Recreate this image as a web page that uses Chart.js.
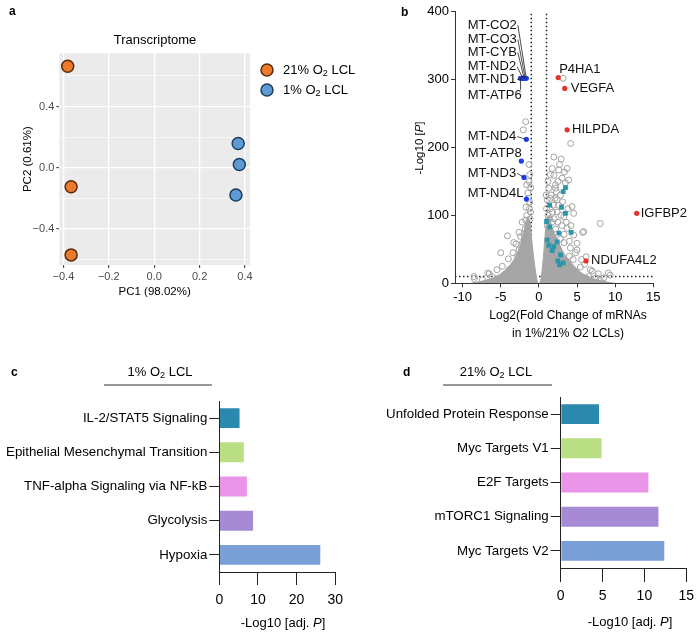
<!DOCTYPE html>
<html>
<head>
<meta charset="utf-8">
<script src="https://cdn.jsdelivr.net/npm/chart.js@4.4.0/dist/chart.umd.min.js"></script>
<style>
  body { margin: 0; background: #fff; }
  #wrap { position: relative; width: 700px; height: 634px; }
  canvas { position: absolute; }
</style>
</head>
<body>
<div id="wrap">
  <canvas id="pcaChart" width="370" height="310" style="left:0;top:0"></canvas>
  <canvas id="volcanoChart" width="350" height="345" style="left:350px;top:0"></canvas>
  <canvas id="hypoxiaChart" width="350" height="304" style="left:0;top:330px"></canvas>
  <canvas id="normoxiaChart" width="350" height="304" style="left:350px;top:330px"></canvas>
</div>
<script>
const FONT = '"Liberation Sans", Arial, sans-serif';
Chart.defaults.font.family = FONT;
Chart.defaults.color = '#000';

// ---- a: PCA ----
const pcaGroups = ['21% O₂ LCL', '1% O₂ LCL'];
const pc1Normoxia = [-0.381, -0.366, -0.366];
const pc2Normoxia = [0.663, -0.124, -0.569];
const pc1Hypoxia = [0.370, 0.375, 0.360];
const pc2Hypoxia = [0.159, 0.022, -0.178];
const pcaXTicks = [-0.4, -0.3, -0.2, -0.1, 0, 0.1, 0.2, 0.3, 0.4];
const pcaYTicks = [-0.6, -0.4, -0.2, 0, 0.2, 0.4, 0.6];

// ---- b: volcano ----
const volcanoXTicks = [-10, -5, 0, 5, 10, 15];
const volcanoYTicks = [0, 100, 200, 300, 400];
const foldCutoff = [-1, 1];
const pCutoff = 10;
const upGenes = ['P4HA1', 'VEGFA', 'HILPDA', 'IGFBP2', 'NDUFA4L2'];
const upLog2FC = [2.53, 3.39, 3.70, 12.83, 6.18];
const upLogP = [303, 287, 226, 103, 33];
const mtGenes = ['MT-CO2', 'MT-CO3', 'MT-CYB', 'MT-ND2', 'MT-ND1', 'MT-ATP6', 'MT-ND4', 'MT-ATP8', 'MT-ND3', 'MT-ND4L'];
const mtLog2FC = [-1.65, -1.8, -1.95, -2.1, -2.25, -2.4, -1.64, -2.3, -1.95, -1.64];
const mtLogP = [302, 302, 302, 302, 302, 302, 212, 180, 156, 124];
const hallmarkLog2FC = [3.48, 3.18, 1.40, 2.96, 3.48, 1.0, 1.44, 2.61, 4.22, 1.09, 2.40, 1.30, 1.75, 2.83, 2.48, 3.18, 2.70, 1.96];
const hallmarkLogP = [141, 135, 115, 112, 103, 91, 83, 74, 75, 64, 61, 56, 48, 42, 33, 30, 27, 54];
const otherLog2FC = [
  -1.73, -2.05, -1.3, -1.08, -1.6, -1.45, -1.2, -1.6, -1.73, -1.25, -1.4, -1.8, -1.96, -2.4, -2.16,
  -2.6, -1.5, -3.04, -3.7, -4.56, -4.12, -5.0, -6.5, -8.47, -7.4, -3.9, -6.7, -8.5, -1.9, -1.15,
  -1.3, -1.2, -2.2, -2.6, -3.0, -3.4, -4.0, -4.8, -5.5, -6.2, -1.1, -1.35, -2.8, -3.3, -1.7,
  3.17, 4.17, 1.96, 2.92, 1.75, 2.6, 3.35, 3.7, 1.96, 3.05, 3.9, 2.18, 3.48, 2.18, 1.53,
  2.83, 4.35, 4.56, 3.26, 8.04, 5.87, 4.56, 5.0, 3.7, 9.1, 6.74, 5.43, 5.74, 6.2, 9.35,
  5.0, 4.13, 1.09, 2.39, 1.2, 1.5, 2.0, 2.5, 3.0, 1.3, 2.6, 1.8, 4.0, 4.5, 3.3,
  2.8, 3.8, 7.5, 6.5, 8.0, 1.1, 1.4, 1.7, 2.2, 1.0, 1.6, 2.3, 1.25,
  1.9, 2.4, 2.9, 3.6, 4.2, 2.1, 1.2, 1.5, 2.5, 2.7, 3.1, 3.8, 3.3, 4.0, 4.8,
  5.6, 6.0, 7.0, 7.8, 8.5, 0.95
];
const otherLogP = [
  238, 226, 150, 141, 145, 133, 120, 100, 93, 110, 85, 80, 72, 69, 59,
  49, 76, 29, 20, 12, 70, 45, 14, 7, 5, 20, 15, 10, 65, 95,
  175, 160, 90, 75, 58, 45, 36, 25, 20, 10, 105, 125, 40, 60, 112,
  302, 206, 186, 183, 169, 167, 164, 169, 159, 155, 152, 145, 148, 140, 125,
  130, 113, 103, 98, 88, 76, 71, 59, 81, 15, 20, 24, 75, 39, 12,
  49, 52, 123, 123, 100, 110, 95, 90, 85, 140, 115, 105, 40, 35, 60,
  65, 30, 8, 10, 5, 85, 95, 90, 80, 110, 130, 135, 75,
  115, 105, 100, 90, 85, 125, 150, 160, 150, 175, 120, 110, 72, 62, 45,
  35, 28, 18, 14, 8, 130
];
// outline of the dense grey cloud (down / up regulated)
const downCloudX = [-9, -7.5, -6, -5, -4, -3, -2.4, -2, -1.7, -1.45, -1.2, -1, -0.7, -0.45, -0.25, -0.1];
const downCloudY = [0, 3, 8, 14, 24, 40, 58, 75, 90, 97, 92, 70, 40, 18, 5, 0];
const upCloudX = [0.1, 0.3, 0.6, 0.85, 1.1, 1.35, 1.7, 2.2, 2.8, 3.5, 4.5, 5.5, 6.7, 8, 10];
const upCloudY = [0, 8, 40, 75, 95, 100, 82, 70, 55, 40, 27, 16, 9, 4, 0];

// ---- c / d: enrichment ----
const hypoxiaTerms = ['IL-2/STAT5 Signaling', 'Epithelial Mesenchymal Transition', 'TNF-alpha Signaling via NF-kB', 'Glycolysis', 'Hypoxia'];
const hypoxiaScores = [5.5, 6.6, 7.4, 9.0, 26.4];
const normoxiaTerms = ['Unfolded Protein Response', 'Myc Targets V1', 'E2F Targets', 'mTORC1 Signaling', 'Myc Targets V2'];
const normoxiaScores = [4.7, 5.0, 10.6, 11.8, 12.5];
const termColors = ['#2c89ae', '#b9de84', '#ea95e7', '#a68ad3', '#7a9fd7'];

const toPts = (xs, ys) => xs.map((x, i) => ({ x: x, y: ys[i] }));

// rich text: *italic*, ₂ as subscript
function richParts(str) {
    const parts = [];
    str.split('*').forEach((seg, i) => {
        seg.split(/(₂)/).forEach(s => {
            if (!s) return;
            if (s === '₂') parts.push({ t: '2', sub: true, it: i % 2 === 1 });
            else parts.push({ t: s, it: i % 2 === 1 });
        });
    });
    return parts;
}

function drawRich(ctx, str, x, y, o) {
    const size = o.size || 13;
    const parts = richParts(str);
    const fontFor = p => (p.it ? 'italic ' : '') + (o.bold ? 'bold ' : '') + (p.sub ? size * 0.7 : size) + 'px ' + FONT;
    let w = 0;
    parts.forEach(p => { ctx.font = fontFor(p); p.w = ctx.measureText(p.t).width; w += p.w; });
    ctx.save();
    ctx.translate(x, y);
    if (o.rotate) ctx.rotate(o.rotate);
    let cx = o.align === 'left' ? 0 : (o.align === 'right' ? -w : -w / 2);
    ctx.fillStyle = o.color || '#000';
    ctx.textBaseline = 'middle';
    ctx.textAlign = 'left';
    parts.forEach(p => {
        ctx.font = fontFor(p);
        ctx.fillText(p.t, cx, p.sub ? size * 0.28 : 0);
        cx += p.w;
    });
    ctx.restore();
    return w;
}

// texts and rules drawn on top of a chart, in canvas pixels
function textLayer(items) {
    return {
        id: 'textLayer',
        afterDraw(chart) {
            const ctx = chart.ctx;
            items.forEach(it => {
                if (it.line) {
                    ctx.save();
                    ctx.strokeStyle = '#333';
                    ctx.lineWidth = 1;
                    ctx.beginPath();
                    ctx.moveTo(it.line[0], it.line[1]);
                    ctx.lineTo(it.line[2], it.line[3]);
                    ctx.stroke();
                    ctx.restore();
                    return;
                }
                drawRich(ctx, it.text, it.x, it.y, it);
            });
        }
    };
}

const fixWidth = w => s => { s.width = w; };
const fixHeight = h => s => { s.height = h; };
const setTicks = list => axis => { axis.ticks = list.map(v => ({ value: v })); };

// ---------- a ----------
const isMajor = (v, step) => Math.abs(v / step - Math.round(v / step)) < 1e-6;
const pcaFmt = v => (v < 0 ? '\u2212' : '') + Math.abs(v).toFixed(1);

const panelBg = {
    id: 'panelBg',
    beforeDraw(chart) {
        const { ctx, chartArea: a } = chart;
        ctx.save();
        ctx.fillStyle = '#ebebeb';
        ctx.fillRect(a.left, a.top, a.right - a.left, a.bottom - a.top);
        ctx.restore();
    }
};

const pcaLegend = {
    id: 'pcaLegend',
    afterDraw(chart) {
        const ctx = chart.ctx;
        chart.data.datasets.forEach((ds, i) => {
            const cy = 70 + i * 20;
            ctx.save();
            ctx.beginPath();
            ctx.arc(267, cy, 6, 0, Math.PI * 2);
            ctx.fillStyle = ds.backgroundColor;
            ctx.fill();
            ctx.lineWidth = ds.borderWidth;
            ctx.strokeStyle = ds.borderColor;
            ctx.stroke();
            ctx.restore();
            drawRich(ctx, ds.label, 283, cy, { size: 13, align: 'left' });
        });
    }
};

new Chart(document.getElementById('pcaChart'), {
    type: 'scatter',
    data: {
        datasets: [
            { label: pcaGroups[0], data: toPts(pc1Normoxia, pc2Normoxia), backgroundColor: '#ec7a2c', borderColor: '#5b2a0a', borderWidth: 1.5, pointRadius: 6 },
            { label: pcaGroups[1], data: toPts(pc1Hypoxia, pc2Hypoxia), backgroundColor: '#5d9ad6', borderColor: '#1d3e5e', borderWidth: 1.5, pointRadius: 6 }
        ]
    },
    options: {
        responsive: false,
        animation: false,
        layout: { padding: { left: 21, top: 53.3, right: 120, bottom: 10.8 } },
        plugins: { legend: { display: false }, tooltip: { enabled: false } },
        scales: {
            x: {
                min: -0.418, max: 0.422,
                afterBuildTicks: setTicks(pcaXTicks),
                afterFit: fixHeight(34.2),
                border: { display: false },
                grid: {
                    color: '#fff',
                    lineWidth: c => (c.tick && isMajor(c.tick.value, 0.2) ? 1.3 : 0.6),
                    tickColor: c => (c.tick && isMajor(c.tick.value, 0.2) ? '#333' : 'rgba(0,0,0,0)'),
                    tickWidth: 1, tickLength: 3
                },
                ticks: { color: '#4d4d4d', font: { size: 11 }, padding: 2, maxRotation: 0, callback: v => (isMajor(v, 0.2) ? pcaFmt(v) : '') },
                title: { display: true, text: 'PC1 (98.02%)', font: { size: 11.5 }, padding: 0 }
            },
            y: {
                min: -0.635, max: 0.748,
                afterBuildTicks: setTicks(pcaYTicks),
                afterFit: fixWidth(38.3),
                border: { display: false },
                grid: {
                    color: '#fff',
                    lineWidth: c => (c.tick && isMajor(c.tick.value, 0.4) ? 1.3 : 0.6),
                    tickColor: c => (c.tick && isMajor(c.tick.value, 0.4) ? '#333' : 'rgba(0,0,0,0)'),
                    tickWidth: 1, tickLength: 3
                },
                ticks: { color: '#4d4d4d', font: { size: 11 }, padding: 2, callback: v => (isMajor(v, 0.4) ? pcaFmt(v) : '') },
                title: { display: true, text: 'PC2 (0.61%)', font: { size: 11.5 }, padding: 0 }
            }
        }
    },
    plugins: [panelBg, pcaLegend, textLayer([
        { text: 'a', x: 9, y: 12, size: 12, bold: true, align: 'left' },
        { text: 'Transcriptome', x: 155, y: 40, size: 13 }
    ])]
});

// ---------- b ----------
// where the gene names sit (pixel offsets / data spots for the text)
const upLabelOffsets = [[1, -8], [6, 0], [5, 0], [4, 0], [5, 0]];
const mtLabelX = -9.33;
const mtLabelY = [380, 359, 340, 319, 300, 276, 216, 191, 162, 133];
const mtLinks = ['side', 'side', 'side', 'side', 'side', 'up', 'side', 'none', 'side', 'none'];

const volcanoLabels = {
    id: 'volcanoLabels',
    afterDatasetsDraw(chart) {
        const { ctx, scales: { x, y } } = chart;
        ctx.save();
        ctx.font = '13px ' + FONT;
        ctx.textBaseline = 'middle';
        ctx.fillStyle = '#111';
        ctx.strokeStyle = '#222';
        ctx.lineWidth = 0.8;
        upGenes.forEach((g, i) => {
            const px = x.getPixelForValue(upLog2FC[i]);
            const py = y.getPixelForValue(upLogP[i]);
            ctx.fillText(g, px + upLabelOffsets[i][0], py + upLabelOffsets[i][1]);
        });
        mtGenes.forEach((g, i) => {
            const lx = x.getPixelForValue(mtLabelX);
            const ly = y.getPixelForValue(mtLabelY[i]);
            ctx.fillText(g, lx, ly);
            const w = ctx.measureText(g).width;
            const px = x.getPixelForValue(mtLog2FC[i]);
            const py = y.getPixelForValue(mtLogP[i]);
            ctx.beginPath();
            if (mtLinks[i] === 'side') {
                ctx.moveTo(lx + w + 1, ly);
                ctx.lineTo(px, py);
            } else if (mtLinks[i] === 'up') {
                ctx.moveTo(px, ly - 6);
                ctx.lineTo(px, py);
            }
            ctx.stroke();
        });
        ctx.restore();
    }
};

const yMax = volcanoYTicks[volcanoYTicks.length - 1];
const cutoffStyle = { showLine: true, borderDash: [1.5, 2.5], borderColor: '#222', borderWidth: 1.5, pointRadius: 0, order: 5 };

new Chart(document.getElementById('volcanoChart'), {
    type: 'scatter',
    data: {
        datasets: [
            { label: 'top up', data: toPts(upLog2FC, upLogP), backgroundColor: '#e8332d', borderWidth: 0, pointRadius: 2.6, order: 0 },
            { label: 'mitochondrial', data: toPts(mtLog2FC, mtLogP), backgroundColor: '#1e3cf0', borderWidth: 0, pointRadius: 2.6, order: 1 },
            { label: 'hypoxia hallmark', data: toPts(hallmarkLog2FC, hallmarkLogP), pointStyle: 'rect', backgroundColor: '#2996aa', borderWidth: 0, pointRadius: 3.4, order: 2 },
            { label: 'other', data: toPts(otherLog2FC, otherLogP), backgroundColor: 'rgba(0,0,0,0)', borderColor: '#a3a3a3', borderWidth: 1, pointRadius: 3, order: 3 },
            { label: 'cloud down', data: toPts(downCloudX, downCloudY), showLine: true, fill: 'origin', backgroundColor: '#a6a6a6', borderColor: '#a6a6a6', borderWidth: 1, pointRadius: 0, tension: 0.25, order: 4 },
            { label: 'cloud up', data: toPts(upCloudX, upCloudY), showLine: true, fill: 'origin', backgroundColor: '#a6a6a6', borderColor: '#a6a6a6', borderWidth: 1, pointRadius: 0, tension: 0.25, order: 4 },
            Object.assign({ label: 'fc down', data: [{ x: foldCutoff[0], y: 0 }, { x: foldCutoff[0], y: yMax }] }, cutoffStyle),
            Object.assign({ label: 'fc up', data: [{ x: foldCutoff[1], y: 0 }, { x: foldCutoff[1], y: yMax }] }, cutoffStyle),
            Object.assign({ label: 'p cut', data: [{ x: -11, y: pCutoff }, { x: 15, y: pCutoff }] }, cutoffStyle)
        ]
    },
    options: {
        responsive: false,
        animation: false,
        layout: { padding: { left: 0, top: 11.7, right: 46.7, bottom: 0 } },
        plugins: { legend: { display: false }, tooltip: { enabled: false } },
        scales: {
            x: {
                min: -11, max: 15,
                afterBuildTicks: setTicks(volcanoXTicks),
                afterFit: fixHeight(61.7),
                border: { display: true, color: '#333', width: 1 },
                grid: { drawOnChartArea: false, drawTicks: true, tickLength: 4, tickColor: '#333' },
                ticks: { font: { size: 13 }, padding: 2, maxRotation: 0 }
            },
            y: {
                min: 0, max: yMax,
                afterBuildTicks: setTicks(volcanoYTicks),
                afterFit: fixWidth(105),
                border: { display: true, color: '#333', width: 1 },
                grid: { drawOnChartArea: false, drawTicks: true, tickLength: 4, tickColor: '#333' },
                ticks: { font: { size: 13 }, padding: 2 }
            }
        }
    },
    plugins: [volcanoLabels, textLayer([
        { text: 'b', x: 51, y: 13, size: 12, bold: true, align: 'left' },
        { text: '-Log10 [*P*]', x: 70, y: 148, size: 11.5, rotate: -Math.PI / 2 },
        { text: 'Log2(Fold Change of mRNAs', x: 218, y: 316, size: 12 },
        { text: 'in 1%/21% O2 LCLs)', x: 218, y: 334, size: 12 }
    ])]
});

// ---------- c / d ----------
function enrichmentChart(id, terms, scores, xMax, step, box, texts) {
    return new Chart(document.getElementById(id), {
        type: 'bar',
        data: {
            labels: terms,
            datasets: [{
                label: '-Log10 [adj. P]',
                data: scores,
                backgroundColor: termColors,
                borderColor: 'rgba(255,255,255,0.45)',
                borderWidth: 1,
                categoryPercentage: 1,
                barPercentage: 0.64
            }]
        },
        options: {
            indexAxis: 'y',
            responsive: false,
            animation: false,
            layout: { padding: { left: 0, top: box.top, right: box.right, bottom: 0 } },
            plugins: { legend: { display: false }, tooltip: { enabled: false } },
            scales: {
                x: {
                    min: 0, max: xMax,
                    ticks: { stepSize: step, font: { size: 14 }, padding: box.tickPad, maxRotation: 0 },
                    afterFit: fixHeight(box.xHeight),
                    border: { display: true, color: '#222', width: 1 },
                    grid: { drawOnChartArea: false, drawTicks: true, tickLength: box.tickLen, tickColor: '#222' }
                },
                y: {
                    afterFit: fixWidth(box.left),
                    border: { display: true, color: '#222', width: 1 },
                    grid: { offset: false, drawOnChartArea: false, drawTicks: true, tickLength: 10, tickColor: '#222' },
                    ticks: { font: { size: 13.3 }, padding: 2, autoSkip: false }
                }
            }
        },
        plugins: [textLayer(texts)]
    });
}

enrichmentChart('hypoxiaChart', hypoxiaTerms, hypoxiaScores, 30, 10,
    { top: 71, right: 6, left: 219.3, xHeight: 62, tickLen: 13, tickPad: 7 },
    [
        { text: 'c', x: 11, y: 43, size: 12, bold: true, align: 'left' },
        { text: '1% O₂ LCL', x: 160, y: 42, size: 13 },
        { line: [104, 55, 212, 55] },
        { text: '-Log10 [adj. *P*]', x: 283, y: 293, size: 13 }
    ]);

enrichmentChart('normoxiaChart', normoxiaTerms, normoxiaScores, 15, 5,
    { top: 67, right: 11, left: 210.7, xHeight: 66, tickLen: 14, tickPad: 6 },
    [
        { text: 'd', x: 53, y: 43, size: 12, bold: true, align: 'left' },
        { text: '21% O₂ LCL', x: 146, y: 42, size: 13 },
        { line: [93, 55, 202, 55] },
        { text: '-Log10 [adj. *P*]', x: 280, y: 292, size: 13 }
    ]);
</script>
</body>
</html>
